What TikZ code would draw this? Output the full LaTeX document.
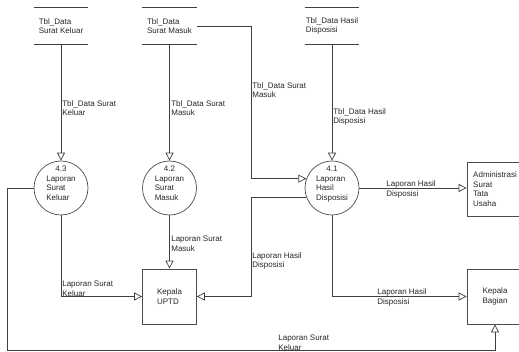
\documentclass[tikz,border=0pt]{standalone}
\usepackage{fontspec}
\setmainfont{Liberation Sans}
\usetikzlibrary{arrows.meta}
\tikzset{
>={Triangle[open,length=8pt,width=8pt]},
proses/.style={circle,draw=black!70,minimum size=54pt,inner sep=0pt},
entitas/.style={rectangle,draw=black!70,minimum width=56pt,minimum height=54pt,inner sep=0pt,align=left},
simpan/.style={minimum width=54pt,minimum height=36pt,inner sep=0pt,align=left},
isi/.style={inner sep=0pt},
ket/.style={inner sep=0pt,align=left,anchor=west},
aliran/.style={->,draw=black!75,line width=0.7pt}}

\begin{document}
\begin{tikzpicture}[x=1pt,y=-1pt,font=\fontsize{8}{9.5}\selectfont,text=black!85,line width=0.7pt]

\useasboundingbox (0,0) rectangle (519,352);
\clip (0,0) rectangle (519,352);

% data store
\node[simpan] (s1) at (61,26) {Tbl\_Data\\Surat Keluar};
\node[simpan] (s2) at (169.5,26) {Tbl\_Data\\Surat Masuk};
\node[simpan] (s3) at (332,26) {Tbl\_Data Hasil\\Disposisi};

\draw[black!75] (s1.north west) -- (s1.north east) (s1.south west) -- (s1.south east);
\draw[black!75] (s2.north west) -- (s2.north east) (s2.south west) -- (s2.south east);
\draw[black!75] (s3.north west) -- (s3.north east) (s3.south west) -- (s3.south east);

% proses
\node[proses] (p43) at (61,188) {};
\node[proses] (p42) at (169.5,188) {};
\node[proses] (p41) at (332,188) {};

\node[isi] (t43) at (61,184) {\begin{tabular}{@{}l@{}}\multicolumn{1}{@{}c@{}}{4.3}\\Laporan\\Surat\\Keluar\end{tabular}};
\node[isi] (t42) at (169.5,184) {\begin{tabular}{@{}l@{}}\multicolumn{1}{@{}c@{}}{4.2}\\Laporan\\Surat\\Masuk\end{tabular}};
\node[isi] (t41) at (332,184) {\begin{tabular}{@{}l@{}}\multicolumn{1}{@{}c@{}}{4.1}\\Laporan\\Hasil\\Disposisi\end{tabular}};

% entitas
\node[entitas,minimum width=54pt,minimum height=55pt] (uptd) at (169.5,296.5) {Kepala\\UPTD};
\node[entitas] (adm) at (495,189) {Administrasi\\Surat\\Tata\\Usaha};
\node[entitas,minimum height=55pt] (kb) at (495,296.5) {Kepala\\Bagian};

\coordinate (b1) at (251,26);
\coordinate (b2) at (7,350);

% aliran data
\draw[aliran] (s1.south) -- (p43.north);
\draw[aliran] (s2.south) -- (p42.north);
\draw[aliran] (s3.south) -- (p41.north);
\draw[aliran] (s2.east) -- (b1) |- (p41.160);
\draw[aliran] (p43.south) |- (uptd.west);
\draw[aliran] (p42.south) -- (uptd.north);
\draw[aliran] (p41.200) -- (p41.200 -| b1) |- (uptd.east);
\draw[aliran] (p41.east) -- (p41.east -| adm.west);
\draw[aliran] (p41.south) |- (kb.west);
\draw[aliran] (p43.west) -| (b2) -| (kb.south);

\node[ket] (k1) at (62,108) {Tbl\_Data Surat\\Keluar};
\node[ket] (k2) at (171,108) {Tbl\_Data Surat\\Masuk};
\node[ket] (k3) at (252,90) {Tbl\_Data Surat\\Masuk};
\node[ket] (k4) at (333,117) {Tbl\_Data Hasil\\Disposisi};
\node[ket] (k5) at (62,288.5) {Laporan Surat\\Keluar};
\node[ket] (k6) at (171,243.5) {Laporan Surat\\Masuk};
\node[ket] (k7) at (252,261) {Laporan Hasil\\Disposisi};
\node[ket] (k8) at (386,189.5) {Laporan Hasil\\Disposisi};
\node[ket] (k9) at (377,297.5) {Laporan Hasil\\Disposisi};
\node[ket] (k10) at (278,342.5) {Laporan Surat\\Keluar};

\end{tikzpicture}
\end{document}
